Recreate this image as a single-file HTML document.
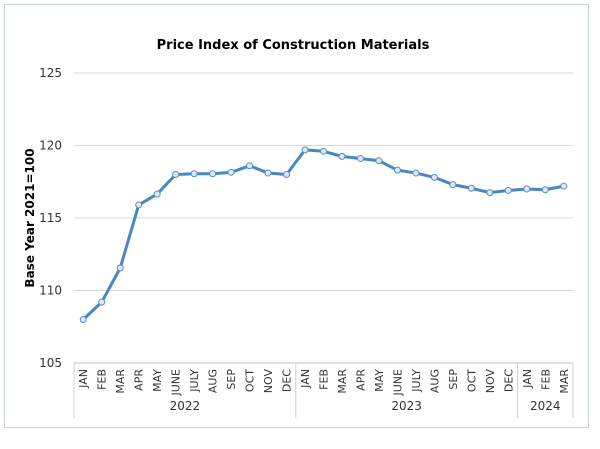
<!DOCTYPE html>
<html><head><meta charset="utf-8"><style>
body{margin:0;background:#fff;font-family:"Liberation Sans","DejaVu Sans",sans-serif}
svg text{font-family:"DejaVu Sans","Liberation Sans",sans-serif}
</style></head><body>
<svg width="600" height="444" viewBox="0 0 600 444">
<rect x="4.5" y="4.5" width="584" height="423" fill="#fff" stroke="#c9d3dc"/>
<text x="293" y="49" text-anchor="middle" font-size="13" font-weight="bold" fill="#000">Price Index of Construction Materials</text>
<text transform="translate(34,218) rotate(-90)" text-anchor="middle" font-size="12" font-weight="bold" fill="#000">Base Year 2021=100</text>
<g id="grid"></g><g id="xaxis"></g><g id="series"></g>
</svg>
<script>
const months=["JAN","FEB","MAR","APR","MAY","JUNE","JULY","AUG","SEP","OCT","NOV","DEC","JAN","FEB","MAR","APR","MAY","JUNE","JULY","AUG","SEP","OCT","NOV","DEC","JAN","FEB","MAR"];
const values=[108.0,109.2,111.55,115.9,116.65,118.0,118.05,118.05,118.15,118.6,118.1,118.0,119.7,119.6,119.25,119.1,118.95,118.3,118.1,117.8,117.3,117.05,116.75,116.9,117.0,116.95,117.2];
const yTicks=[105,110,115,120,125];
const years=["2022","2023","2024"];
const yearCounts=[12,12,3];
const NS="http://www.w3.org/2000/svg";
const L=74,R=573,yMin=105,yMax=125,yBot=363,yTop=73;
const step=(R-L)/months.length;
const xs=i=>L+step*(i+0.5);
const ys=v=>yBot-(v-yMin)/(yMax-yMin)*(yBot-yTop);
function mk(t,a,p){const e=document.createElementNS(NS,t);for(const k in a)e.setAttribute(k,a[k]);p.appendChild(e);return e;}
const grid=document.getElementById('grid'),xa=document.getElementById('xaxis'),se=document.getElementById('series');
yTicks.forEach(t=>{
 const l=mk('line',{x1:L,x2:R,y1:ys(t),y2:ys(t),stroke:t===yMin?'#bfbfbf':'#d9d9d9','stroke-width':1},grid);
 
 
 const tx=mk('text',{x:L-12,y:ys(t)+4,'text-anchor':'end','font-size':12,fill:'#333'},grid);
 tx.textContent=t;
 
 
});
months.forEach((m,i)=>{
 const t=mk('text',{transform:`translate(${xs(i)+4},369) rotate(-90)`,'text-anchor':'end','font-size':11,fill:'#333'},xa);
 t.textContent=m;
 
 
});
let start=0;
const sep0=mk('line',{x1:L,x2:L,y1:yBot,y2:418,stroke:'#d0d0d0'},xa);


years.forEach((y,k)=>{
 const end=start+yearCounts[k];
 const xe=L+step*end;
 const s=mk('line',{x1:xe,x2:xe,y1:yBot,y2:418,stroke:'#d0d0d0'},xa);
 
 
 const t=mk('text',{x:(L+step*start+xe)/2,y:410,'text-anchor':'middle','font-size':12,fill:'#333'},xa);
 t.textContent=y;
 
 
 start=end;
});
const pl=mk('polyline',{points:values.map((v,i)=>xs(i)+','+ys(v)).join(' '),fill:'none',stroke:'#4a86c0','stroke-width':3,'stroke-linejoin':'round'},se);


values.forEach((v,i)=>{
 const c=mk('circle',{cx:xs(i),cy:ys(v),r:3,fill:'#dce8f4',stroke:'#5b8fc5','stroke-width':1},se);
 
 
});
</script>
</body></html>
